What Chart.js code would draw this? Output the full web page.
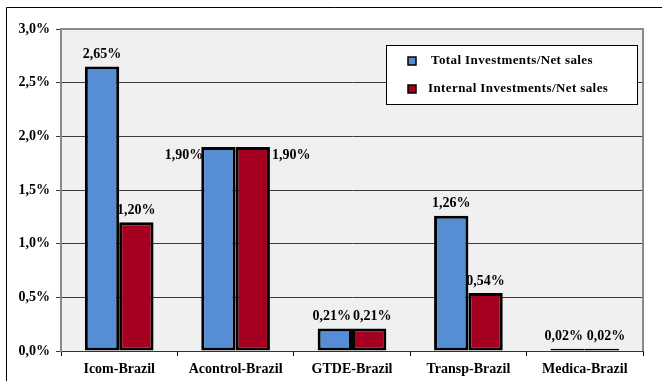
<!DOCTYPE html>
<html>
<head>
<meta charset="utf-8">
<script src="https://cdn.jsdelivr.net/npm/chart.js@4/dist/chart.umd.min.js"></script>
<style>
  html, body { margin: 0; padding: 0; background: #fff; }
  #wrap { width: 662px; height: 381px; position: relative; }
</style>
</head>
<body>
<div id="wrap"><canvas id="invChart" width="662" height="381"></canvas></div>
<script>
const categories = ['Icom-Brazil', 'Acontrol-Brazil', 'GTDE-Brazil', 'Transp-Brazil', 'Medica-Brazil'];
const totalInvestments = [2.65, 1.90, 0.21, 1.26, 0.02];
const internalInvestments = [1.20, 1.90, 0.21, 0.54, 0.02];
const seriesNames = ['Total Investments/Net sales', 'Internal Investments/Net sales'];
const yTicks = [0, 0.5, 1.0, 1.5, 2.0, 2.5, 3.0];

const serif = '"Liberation Serif", "Times New Roman", serif';
const fmt = (v, d) => v.toFixed(d).replace('.', ',') + '%';

// grey plot area + outer frame
const frame = {
    id: 'frame',
    beforeDraw(chart) {
        const c = chart.ctx, a = chart.chartArea;
        c.save();
        c.fillStyle = '#f0f0f0';
        c.fillRect(a.left, a.top, a.right - a.left, a.bottom - a.top);
        c.strokeStyle = '#000';
        c.lineWidth = 1;
        c.beginPath();
        c.moveTo(6.5, 381);
        c.lineTo(6.5, 7.5);
        c.lineTo(662, 7.5);
        c.stroke();
        c.restore();
    },
    afterDraw(chart) {
        const c = chart.ctx, a = chart.chartArea;
        c.save();
        c.strokeStyle = '#8a8a8a';
        c.lineWidth = 2;
        c.beginPath();
        c.moveTo(a.left, a.top);
        c.lineTo(a.right, a.top);
        c.lineTo(a.right, a.bottom);
        c.stroke();
        c.restore();
    }
};

// value labels
const valueLabels = {
    id: 'valueLabels',
    afterDatasetsDraw(chart) {
        const c = chart.ctx;
        c.save();
        c.font = 'bold 14px ' + serif;
        c.fillStyle = '#000';
        chart.data.datasets.forEach((ds, di) => {
            chart.getDatasetMeta(di).data.forEach((bar, i) => {
                const txt = fmt(ds.data[i], 2);
                if (i === 1) {
                    c.textBaseline = 'top';
                    if (di === 0) {
                        c.textAlign = 'right';
                        c.fillText(txt, bar.x - bar.width / 2 + 2, bar.y + 1);
                    } else {
                        c.textAlign = 'left';
                        c.fillText(txt, bar.x + bar.width / 2 + 2, bar.y + 1);
                    }
                } else {
                    c.textAlign = 'center';
                    c.textBaseline = 'bottom';
                    const dx = i === 4 ? (di === 0 ? -4 : 4) : (i === 2 ? (di === 0 ? -3 : 3) : 0);
                    c.fillText(txt, bar.x + dx, bar.y - 5);
                }
            });
        });
        c.restore();
    }
};

// boxed legend
const boxLegend = {
    id: 'boxLegend',
    afterDraw(chart) {
        const c = chart.ctx;
        c.save();
        c.fillStyle = '#fff';
        c.fillRect(386, 45, 251, 59);
        c.strokeStyle = '#000';
        c.lineWidth = 1;
        c.strokeRect(386.5, 45.5, 251, 59);
        c.font = 'bold 13px ' + serif;
        c.letterSpacing = '0.4px';
        c.textAlign = 'left';
        c.textBaseline = 'middle';
        const rows = [[61, 431], [89, 428]];
        chart.data.datasets.forEach((ds, i) => {
            const y = rows[i][0];
            c.fillStyle = ds.backgroundColor;
            c.fillRect(408, y - 4, 8, 8);
            c.strokeStyle = '#000';
            c.lineWidth = 1.5;
            c.strokeRect(408, y - 4, 8, 8);
            c.fillStyle = '#000';
            c.fillText(ds.label, rows[i][1], y);
        });
        c.restore();
    }
};

new Chart(document.getElementById('invChart'), {
    type: 'bar',
    data: {
        labels: categories,
        datasets: [
            { label: seriesNames[0], data: totalInvestments, backgroundColor: '#558ed5', borderColor: '#000', borderWidth: 3, borderSkipped: false },
            { label: seriesNames[1], data: internalInvestments, backgroundColor: '#a50021', borderColor: '#000', borderWidth: 3, borderSkipped: false }
        ]
    },
    options: {
        responsive: false,
        animation: false,
        layout: { padding: { top: 29, right: 19, left: 0, bottom: 0 } },
        datasets: { bar: { categoryPercentage: 0.59, barPercentage: 1.0 } },
        plugins: { legend: { display: false }, tooltip: { enabled: false } },
        scales: {
            x: {
                grid: { display: true, drawOnChartArea: false, drawTicks: true, tickLength: 5, color: '#000', offset: true },
                border: { color: '#333', width: 1 },
                ticks: { font: { family: serif, size: 14, weight: 'bold' }, color: '#000', padding: 5, maxRotation: 0 },
                afterFit: s => { s.height = 30; }
            },
            y: {
                min: 0, max: 3,
                afterBuildTicks: s => { s.ticks = yTicks.map(v => ({ value: v })); },
                grid: { color: '#3a3a3a', lineWidth: 1, tickLength: 5 },
                border: { color: '#8a8a8a', width: 2 },
                ticks: { font: { family: serif, size: 14, weight: 'bold' }, color: '#000', padding: 6, callback: v => fmt(v, 1) },
                afterFit: s => { s.width = 61; }
            }
        }
    },
    plugins: [frame, valueLabels, boxLegend]
});
</script>
</body>
</html>
